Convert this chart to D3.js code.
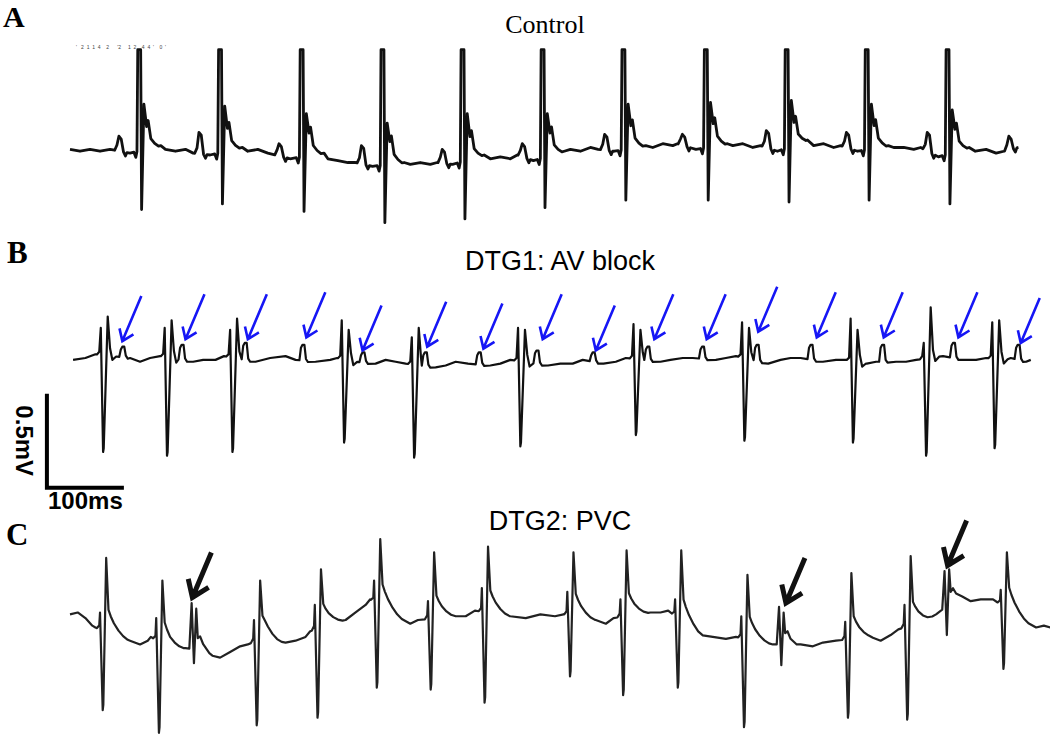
<!DOCTYPE html>
<html>
<head>
<meta charset="utf-8">
<script src="https://cdn.jsdelivr.net/npm/d3@7"></script>
<style>
  body { margin: 0; background: #fff; }
</style>
</head>
<body>
<div id="chart"></div>
<script>
// ---------- data: time in ms, voltage in mV ----------

// Panel A - Control
const beatA_t = [91, 196, 302, 407, 511, 615, 720, 827, 932, 1036, 1141];
const beatA_r = [0.56, 0.56, 0.56, 0.56, 0.56, 0.56, 0.56, 0.56, 0.56, 0.56, 0.56];
const beatA_s = [-0.29, -0.26, -0.30, -0.36, -0.34, -0.28, -0.24, -0.24, -0.25, -0.24, -0.26];
const beatA_j = [0.27, 0.26, 0.22, 0.17, 0.22, 0.22, 0.27, 0.28, 0.29, 0.27, 0.24];
const pA_t = [65, 169, 273, 380, 485, 589, 696, 797, 906, 1010, 1115, 1221];
const pA_v = [0.10, 0.12, 0.06, 0.05, 0.03, 0.06, 0.11, 0.11, 0.13, 0.12, 0.12, 0.10];
const baseA = [[0,0.03],[13,0.02],[26,0.03],[39,0.02],[52,0.03],[78,0.01],[118,0.05],[124,0.03],[137,0.02],[150,0.03],[160,0.01],
  [182,0],[224,0.04],[231,0.02],[244,0.03],[257,0.01],[286,-0.02],[330,0.01],[335,-0.02],[348,-0.03],[361,-0.04],[371,-0.04],
  [393,-0.06],[434,-0.04],[442,-0.05],[455,-0.04],[468,-0.05],[477,-0.04],[497,-0.05],[538,0],[546,-0.02],[559,-0.01],[572,-0.02],
  [581,0],[602,-0.03],[642,0.02],[650,0.03],[663,0.02],[676,0.04],[686,0.03],[707,0.02],[748,0.05],[757,0.04],[770,0.06],[783,0.05],
  [789,0.06],[813,0.03],[854,0.06],[861,0.05],[874,0.06],[887,0.04],[897,0.05],[919,0.02],[958,0.08],[966,0.05],[979,0.06],[992,0.04],
  [1001,0.05],[1023,0.02],[1063,0.05],[1070,0.04],[1083,0.04],[1096,0.03],[1105,0.04],[1128,-0.01],[1168,0.04],[1176,0.02],[1190,0.03],
  [1203,0.01],[1213,0.02],[1232,0.04]];

// Panel B - DTG1: AV block
const beatB_t = [43, 126, 211, 356, 447, 585, 735, 876, 1017, 1112, 1201];
const beatB_r1 = [0.16, 0.16, 0.15, 0.20, 0.11, 0.16, 0.18, 0.19, 0.21, 0.08, 0.19];
const beatB_s = [-0.50, -0.52, -0.50, -0.45, -0.53, -0.47, -0.41, -0.44, -0.45, -0.52, -0.48];
const beatB_r2 = [0.22, 0.20, 0.21, 0.15, 0.16, 0.15, 0.15, 0.16, 0.15, 0.27, 0.20];
const pB_t = [69, 146, 228, 303, 381, 462, 532, 607, 680, 751, 822, 893, 963, 1056, 1148, 1232];
const pB_v = [0.06, 0.07, 0.08, 0.07, 0.03, 0.03, 0.03, 0.04, 0.03, 0.06, 0.06, 0.07, 0.07, 0.07, 0.08, 0.07];
const arrowB_t = [68, 150, 231, 307, 380, 464, 537, 614, 683, 759, 827, 894, 970, 1057, 1154, 1235];
const arrowB_v = [0.09, 0.10, 0.10, 0.11, 0.04, 0.06, 0.05, 0.10, 0.04, 0.10, 0.10, 0.14, 0.11, 0.11, 0.11, 0.08];
const baseB = [[4,-0.01],[20,0],[33,0.02],[78,0],[91,-0.02],[104,0],[117,0.01],[160,-0.02],[173,-0.01],[189,-0.01],[200,0.01],
  [241,-0.02],[260,0],[280,0.01],[293,-0.01],[319,-0.02],[338,-0.01],[347,0],[371,-0.02],[397,-0.03],[410,-0.01],[423,-0.02],
  [436,-0.03],[475,-0.05],[488,-0.04],[501,-0.02],[517,-0.03],[546,-0.04],[559,-0.03],[572,-0.01],[621,-0.04],[637,-0.03],
  [653,-0.03],[666,-0.01],[693,-0.03],[709,-0.02],[722,0],[767,-0.02],[780,-0.01],[796,0],[809,0],[839,-0.01],[852,0],[865,0.01],
  [907,-0.03],[923,-0.01],[936,0],[949,0],[978,-0.02],[995,-0.01],[1008,-0.01],[1035,-0.03],[1047,-0.02],[1073,-0.02],[1086,-0.02],
  [1099,-0.01],[1134,0.01],[1161,-0.01],[1177,-0.01],[1190,0],[1216,-0.01],[1222,0],[1242,-0.02],[1248,-0.01]];

// Panel C - DTG2: PVC
const beatC_t = [47, 120, 247, 326, 403, 473, 543, 654, 723, 794, 880, 1015, 1092, 1217];
const beatC_r1 = [0.04, 0.01, 0.00, 0.08, 0.21, 0.10, 0.17, 0.15, 0.11, 0.11, 0.02, -0.01, 0.08, 0.16];
const beatC_s = [-0.48, -0.60, -0.56, -0.52, -0.36, -0.37, -0.44, -0.30, -0.40, -0.36, -0.57, -0.52, -0.53, -0.26];
const beatC_r = [0.33, 0.21, 0.21, 0.27, 0.43, 0.36, 0.39, 0.36, 0.37, 0.37, 0.24, 0.25, 0.34, 0.36];
const pvcC_t = [161, 924, 1139];
const pvcC_u1 = [0.09, 0.07, 0.26];
const pvcC_d = [-0.23, -0.24, -0.08];
const pvcC_u2 = [0.06, 0.04, 0.27];
const arrowC_t = [159, 930, 1140];
const arrowC_v = [0.12, 0.09, 0.29];
const baseC = [[0,0.03],[10,0.04],[20,0.01],[29,-0.03],[33,-0.04],[78,-0.11],[91,-0.13],[101,-0.11],[105,-0.09],[130,-0.15],
  [150,-0.15],[176,-0.16],[185,-0.19],[195,-0.20],[208,-0.17],[221,-0.14],[231,-0.13],[254,-0.09],[267,-0.11],[280,-0.12],
  [293,-0.11],[306,-0.09],[312,-0.06],[345,-0.01],[358,0],[371,0.04],[384,0.08],[390,0.11],[429,0.01],[442,-0.02],[452,0],
  [500,0.02],[514,0.02],[526,0.05],[572,0.02],[592,0.01],[611,0.03],[630,0.02],[641,0.03],[683,0],[696,-0.02],[706,0.01],
  [754,0.04],[767,0.04],[777,0.05],[819,-0.08],[835,-0.09],[852,-0.10],[865,-0.09],[904,-0.12],[913,-0.13],[949,-0.13],
  [965,-0.14],[978,-0.12],[995,-0.11],[1040,-0.09],[1053,-0.11],[1066,-0.08],[1076,-0.05],[1112,0],[1125,0.03],[1157,0.13],
  [1170,0.10],[1183,0.11],[1199,0.11],[1242,-0.01],[1255,-0.04],[1265,-0.03],[1274,-0.04]];

// scale bar: 100 ms by 0.5 mV
const barT = [-30, 70];
const barV = [-0.69, -0.19];

// ---------- layout ----------
const W = 1050, H = 738;
const svg = d3.select("#chart").append("svg").attr("width", W).attr("height", H);

const x = d3.scaleLinear().domain([0, 1273]).range([70, 1050]);
const yA = d3.scaleLinear().domain([0, 1]).range([155, -33]);
const yB = d3.scaleLinear().domain([0, 1]).range([358, 170]);
const yC = d3.scaleLinear().domain([0, 1]).range([620, 432]);

// wave shapes: [dt ms, value, "a" absolute | "r" relative to baseline]
const qrsA = (t, r, s, j) => ({t, pts: [[-8,0,"r"],[-5.5,-0.03,"r"],[-4,0,"r"],[-3,r,"a"],[0.8,r,"a"],[2,s,"a"],
  [5,j,"a"],[8.5,0.12,"r"],[10.5,0.15,"r"],[14,0.05,"r"],[19,0.02,"r"],[24,0,"r"]]});
const pWaveA = (t, p) => ({t, pts: [[-7,0,"r"],[-4,0.03,"r"],[-1.5,p,"a"],[1.5,p - 0.015,"a"],[4.5,0,"r"],[7,-0.02,"r"],[9,0,"r"]]});
const qrsB = (t, r1, s, r2) => ({t, pts: [[-8,0,"r"],[-5,0.015,"r"],[-3,r1,"a"],[0,s,"a"],[0.8,s + 0.02,"a"],[6,r2,"a"],
  [9,0.04,"r"],[12,-0.02,"r"],[17,0,"r"]]});
const pWaveB = (t, p) => ({t, pts: [[-5,0,"r"],[-3,p - 0.015,"a"],[-1,p,"a"],[1.5,p,"a"],[3.5,0.01,"r"],[6,-0.005,"r"]]});
const qrsC = (t, r1, s, r) => ({t, pts: [[-12,0,"r"],[-9,0.02,"r"],[-8,r1,"a"],[-4.5,s,"a"],[-3.7,s + 0.03,"a"],[0,r,"a"],
  [3,0.12,"r"],[6,0.09,"r"],[10,0.06,"r"],[16,0.03,"r"],[22,0.01,"r"],[28,0,"r"]]});
const pvcC = (t, u1, d, u2) => ({t, pts: [[-6,0,"r"],[-3,u1,"a"],[0,d,"a"],[3,u2,"a"],[5,0.06,"r"],[8,0.07,"r"],[12,0.03,"r"],[20,0,"r"]]});

function buildTrace(knots, feats) {
  const baseAt = d3.scaleLinear().domain(knots.map(d => d[0])).range(knots.map(d => d[1])).clamp(true);
  const wins = feats.map(f => [f.t + f.pts[0][0], f.t + f.pts[f.pts.length - 1][0]]);
  const inside = (t, w) => t >= w[0] && t <= w[1];
  const out = knots.filter(k => !wins.some(w => inside(k[0], w)));
  feats.forEach((f, i) => {
    f.pts.forEach(([dt, v, m]) => {
      const t = f.t + dt;
      if (wins.some((w, j) => j !== i && w[0] > wins[i][0] && inside(t, w))) return;
      out.push([t, m === "a" ? v : baseAt(t) + v]);
    });
  });
  return out.sort((a, b) => a[0] - b[0]);
}

const traceA = buildTrace(baseA, [
  ...beatA_t.map((t, i) => qrsA(t, beatA_r[i], beatA_s[i], beatA_j[i])),
  ...pA_t.map((t, i) => pWaveA(t, pA_v[i]))
]);
const traceB = buildTrace(baseB, [
  ...beatB_t.map((t, i) => qrsB(t, beatB_r1[i], beatB_s[i], beatB_r2[i])),
  ...pB_t.map((t, i) => pWaveB(t, pB_v[i]))
]);
const traceC = buildTrace(baseC, [
  ...beatC_t.map((t, i) => qrsC(t, beatC_r1[i], beatC_s[i], beatC_r[i])),
  ...pvcC_t.map((t, i) => pvcC(t, pvcC_u1[i], pvcC_d[i], pvcC_u2[i]))
]);

function drawTrace(data, y, color, width) {
  svg.append("path")
    .datum(data)
    .attr("fill", "none")
    .attr("stroke", color)
    .attr("stroke-width", width)
    .attr("stroke-linejoin", "round")
    .attr("d", d3.line().x(d => x(d[0])).y(d => y(d[1])));
}

drawTrace(traceA, yA, "#111", 2.8);
drawTrace(traceB, yB, "#111", 2.2);
drawTrace(traceC, yC, "#222", 2.2);

// arrows pointing at P waves (B) and PVCs (C)
function drawArrows(ts, vs, y, color, width, head, spread) {
  const dx = 19, dy = -45;
  const L = Math.hypot(dx, dy), ux = dx / L, uy = dy / L;
  const rot = a => [ux * Math.cos(a) - uy * Math.sin(a), ux * Math.sin(a) + uy * Math.cos(a)];
  const [ax, ay] = rot(spread), [bx, by] = rot(-spread);
  const g = svg.append("g")
    .attr("fill", "none")
    .attr("stroke", color)
    .attr("stroke-width", width)
    .attr("stroke-linejoin", "miter");
  g.selectAll("path")
    .data(ts.map((t, i) => [x(t), y(vs[i])]))
    .join("path")
    .attr("d", ([px, py]) =>
      `M${px + dx},${py + dy}L${px},${py}` +
      `M${px + ax * head},${py + ay * head}L${px},${py}L${px + bx * head},${py + by * head}`);
}

drawArrows(arrowB_t, arrowB_v, yB, "#1616f5", 2.6, 13, 0.62);
drawArrows(arrowC_t, arrowC_v, yC, "#111", 5, 19, 0.62);

// scale bar
svg.append("path")
  .attr("fill", "none")
  .attr("stroke", "#000")
  .attr("stroke-width", 4)
  .attr("stroke-linejoin", "miter")
  .attr("d", `M${x(barT[0])},${yB(barV[1])}L${x(barT[0])},${yB(barV[0])}L${x(barT[1])},${yB(barV[0])}`);

svg.append("text")
  .attr("transform", `translate(24,${(yB(barV[0]) + yB(barV[1])) / 2}) rotate(90)`)
  .attr("text-anchor", "middle")
  .attr("dominant-baseline", "central")
  .attr("font-family", "Liberation Sans, Arial, sans-serif")
  .attr("font-weight", "bold")
  .attr("font-size", 24)
  .text("0.5mV");

svg.append("text")
  .attr("x", (x(barT[0]) + x(barT[1])) / 2)
  .attr("y", 509)
  .attr("text-anchor", "middle")
  .attr("font-family", "Liberation Sans, Arial, sans-serif")
  .attr("font-weight", "bold")
  .attr("font-size", 24)
  .text("100ms");

// titles and panel letters
const serif = "Liberation Serif, Times New Roman, serif";
const sans = "Liberation Sans, Arial, sans-serif";

svg.append("text").attr("x", 545).attr("y", 33).attr("text-anchor", "middle")
  .attr("font-family", serif).attr("font-size", 26).text("Control");
svg.append("text").attr("x", 560).attr("y", 270).attr("text-anchor", "middle")
  .attr("font-family", sans).attr("font-size", 27).text("DTG1: AV block");
svg.append("text").attr("x", 560).attr("y", 530).attr("text-anchor", "middle")
  .attr("font-family", sans).attr("font-size", 27).text("DTG2: PVC");

[["A", 3, 27, 30], ["B", 7, 263, 31], ["C", 6, 545, 31]].forEach(([s, px, py, fs]) => {
  svg.append("text").attr("x", px).attr("y", py)
    .attr("font-family", serif).attr("font-weight", "bold").attr("font-size", fs).text(s);
});

// faint recorder marks above trace A
svg.append("text").attr("x", 76).attr("y", 49)
  .attr("font-family", sans).attr("font-size", 5).attr("fill", "#444")
  .attr("xml:space", "preserve")
  .text("'   2  1  1  4    2      '2     1  2    4  4  '    0  '");
</script>
</body>
</html>
